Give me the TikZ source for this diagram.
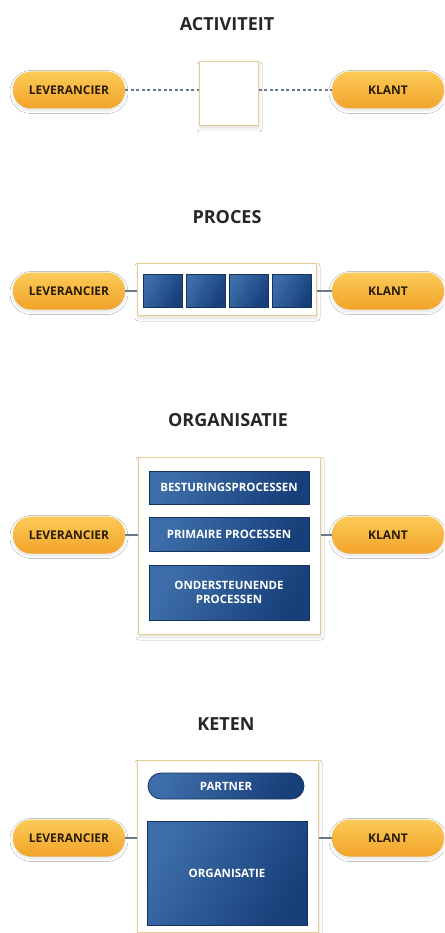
\documentclass[tikz,border=0pt]{standalone}
\usepackage{fontspec}
\setmainfont{Open Sans}
\usetikzlibrary{calc,shadows.blur}

\definecolor{pillLight}{HTML}{FBCB58}
\definecolor{pillDark}{HTML}{F2A329}
\definecolor{pillText}{HTML}{2B1C08}
\definecolor{blueLight}{HTML}{3D6EA9}
\definecolor{blueDark}{HTML}{173F7A}
\definecolor{blueEdge}{HTML}{14335F}
\definecolor{frameEdge}{HTML}{E6CB93}
\definecolor{linkGray}{HTML}{68798B}

\begin{document}
\begin{tikzpicture}[x=1pt,y=-1pt,
  title/.style={font=\fontsize{18}{20}\selectfont\bfseries, text=black!85},
  pill/.style={rectangle, rounded corners=18pt, minimum width=112pt, minimum height=37pt,
    top color=pillLight, bottom color=pillDark, draw=none, text=pillText,
    font=\fontsize{12}{13}\selectfont\bfseries, inner sep=0pt,
    blur shadow={shadow xshift=0pt, shadow yshift=-2pt, shadow blur radius=3pt, shadow opacity=12}},
  frame/.style={rectangle, fill=white, draw=frameEdge, line width=1pt, inner sep=0pt,
    blur shadow={shadow xshift=1pt, shadow yshift=-3pt, shadow blur radius=3pt, shadow opacity=12}},
  bluebox/.style={rectangle, draw=blueEdge, line width=0.8pt, inner sep=0pt,
    left color=blueLight, right color=blueDark, shading angle=60,
    text=white, font=\fontsize{11.5}{14}\selectfont\bfseries, align=center},
  link/.style={draw=linkGray, line width=1.1pt},
]
\useasboundingbox[fill=white] (0,0) rectangle (444,933);

% activiteit
\node[title] (tAct) at (227,24) {ACTIVITEIT};
\node[pill] (levA) at (69,90) {LEVERANCIER};
\node[pill] (klantA) at (388,90) {KLANT};
\node[frame, minimum width=59pt, minimum height=64pt] (actbox) at (228.5,94) {};
\draw[link, dash pattern=on 3pt off 2.5pt] (levA.east) -- (levA.east -| actbox.west);
\draw[link, dash pattern=on 3pt off 2.5pt] (klantA.west -| actbox.east) -- (klantA.west);

% proces
\node[title] (tProc) at (227,217) {PROCES};
\node[pill] (levB) at (69,291) {LEVERANCIER};
\node[pill] (klantB) at (388,291) {KLANT};
\node[frame, minimum width=179pt, minimum height=52pt] (procbox) at (226.5,289) {};
\foreach \i/\xc in {1/162.5,2/205.5,3/248.5,4/291.5}
  \node[bluebox, minimum width=39pt, minimum height=33pt] (sq\i) at (\xc,290.5) {};
\draw[link] (levB.east) -- (levB.east -| procbox.west);
\draw[link] (klantB.west -| procbox.east) -- (klantB.west);

% organisatie
\node[title] (tOrg) at (228,420) {ORGANISATIE};
\node[pill] (levC) at (69,535) {LEVERANCIER};
\node[pill] (klantC) at (388,535) {KLANT};
\node[frame, minimum width=182pt, minimum height=177pt] (orgbox) at (229,545.5) {};
\node[bluebox, minimum width=160pt, minimum height=33pt] (besturing) at (229,487.5) {BESTURINGSPROCESSEN};
\node[bluebox, minimum width=160pt, minimum height=34pt] (primair) at (229,534) {PRIMAIRE PROCESSEN};
\node[bluebox, minimum width=160pt, minimum height=55pt] (ondersteunend) at (229,592.5) {ONDERSTEUNENDE\\PROCESSEN};
\draw[link] (levC.east) -- (levC.east -| orgbox.west);
\draw[link] (klantC.west -| orgbox.east) -- (klantC.west);

% keten
\node[title] (tKet) at (226,724) {KETEN};
\node[pill] (levD) at (69,838) {LEVERANCIER};
\node[pill] (klantD) at (388,838) {KLANT};
\node[frame, minimum width=181pt, minimum height=172pt] (ketenbox) at (227.5,846) {};
\node[bluebox, rounded corners=13pt, minimum width=156pt, minimum height=26pt] (partner) at (226,786) {PARTNER};
\node[bluebox, minimum width=160pt, minimum height=104pt] (organisatie) at (227,873) {ORGANISATIE};
\draw[link] (levD.east) -- (levD.east -| ketenbox.west);
\draw[link] (klantD.west -| ketenbox.east) -- (klantD.west);

\end{tikzpicture}
\end{document}
